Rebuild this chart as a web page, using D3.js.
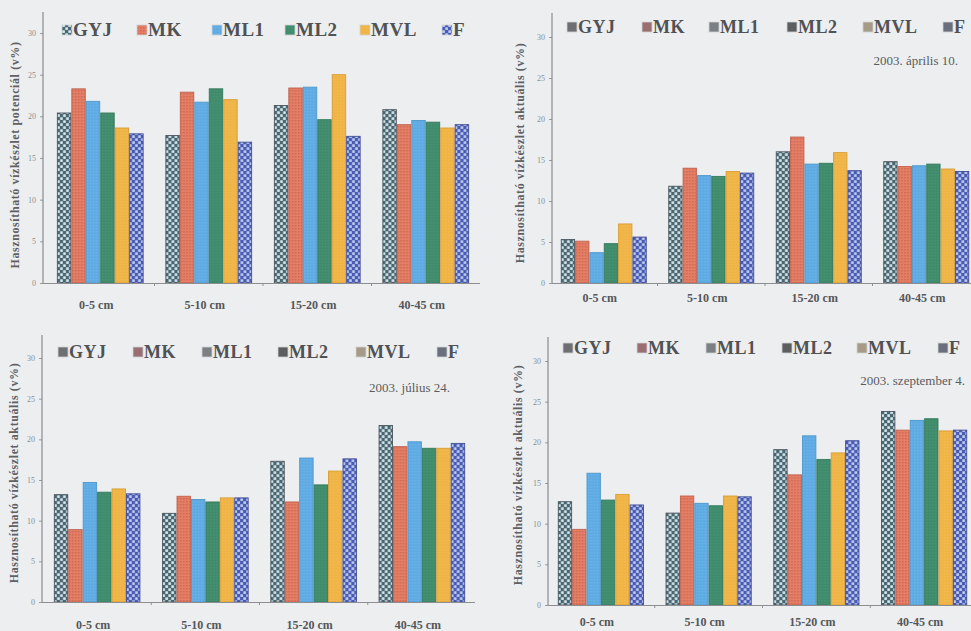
<!DOCTYPE html>
<html>
<head>
<meta charset="utf-8">
<script src="https://cdn.jsdelivr.net/npm/d3@7"></script>
<style>
  html, body { margin: 0; padding: 0; background: #eceef0; }
  svg { display: block; }
</style>
</head>
<body>
<svg id="chart" width="971" height="631"></svg>
<script>
// Soil layers and treatments
const categories = ["0-5 cm", "5-10 cm", "15-20 cm", "40-45 cm"];
const seriesNames = ["GYJ", "MK", "ML1", "ML2", "MVL", "F"];
const yTicks = [0, 5, 10, 15, 20, 25, 30];

// Usable water content (v%), one row per soil layer, columns follow seriesNames
const potencialValues = [
  [20.4, 23.3, 21.8, 20.4, 18.6, 17.9],
  [17.7, 22.9, 21.7, 23.3, 22.0, 16.9],
  [21.3, 23.4, 23.5, 19.6, 25.0, 17.6],
  [20.8, 19.0, 19.5, 19.3, 18.6, 19.0]
];
const april10Values = [
  [5.3, 5.1, 3.7, 4.8, 7.2, 5.6],
  [11.8, 14.0, 13.1, 13.0, 13.6, 13.4],
  [16.0, 17.8, 14.5, 14.6, 15.9, 13.7],
  [14.8, 14.2, 14.3, 14.5, 13.9, 13.6]
];
const july24Values = [
  [13.2, 8.9, 14.7, 13.5, 13.9, 13.3],
  [10.9, 13.0, 12.6, 12.3, 12.8, 12.8],
  [17.3, 12.3, 17.7, 14.4, 16.1, 17.6],
  [21.7, 19.1, 19.7, 18.9, 18.9, 19.5]
];
const sept4Values = [
  [12.7, 9.3, 16.2, 12.9, 13.6, 12.3],
  [11.3, 13.4, 12.5, 12.2, 13.4, 13.3],
  [19.1, 16.0, 20.8, 17.9, 18.7, 20.2],
  [23.8, 21.5, 22.7, 22.9, 21.4, 21.5]
];

const titlePotencial = "Hasznosítható vízkészlet potenciál (v%)";
const titleAktualis = "Hasznosítható vízkészlet aktuális (v%)";
const dateLabels = ["", "2003. április 10.", "2003. július 24.", "2003. szeptember 4."];

const SERIF = "'Liberation Serif', 'Times New Roman', serif";

const svg = d3.select("#chart");
const defs = svg.append("defs");

// Fill patterns for the six treatments
function dotted(id, dark, light) {
  const p = defs.append("pattern").attr("id", id).attr("patternUnits", "userSpaceOnUse")
    .attr("width", 6).attr("height", 6);
  p.append("rect").attr("width", 6).attr("height", 6).attr("fill", dark);
  p.append("rect").attr("x", 0.3).attr("y", 0.3).attr("width", 2.6).attr("height", 2.6).attr("fill", light);
  p.append("rect").attr("x", 3.3).attr("y", 3.3).attr("width", 2.6).attr("height", 2.6).attr("fill", light);
}
function hatched(id, base, fine) {
  const p = defs.append("pattern").attr("id", id).attr("patternUnits", "userSpaceOnUse")
    .attr("width", 3).attr("height", 3);
  p.append("rect").attr("width", 3).attr("height", 3).attr("fill", base);
  p.append("rect").attr("width", 1.5).attr("height", 1.5).attr("fill", fine);
}
dotted("pGYJ", "#4a6670", "#dcebf0");
hatched("pMK", "#e47f66", "#cf6753");
hatched("pML1", "#5eaae2", "#6cb4e8");
hatched("pML2", "#3f8b6b", "#469474");
hatched("pMVL", "#efb445", "#f2ba4f");
dotted("pF", "#4a5bb3", "#c4d1f0");

const barFill = { GYJ: "url(#pGYJ)", MK: "url(#pMK)", ML1: "url(#pML1)", ML2: "url(#pML2)", MVL: "url(#pMVL)", F: "url(#pF)" };
const barStroke = { GYJ: "#4b5660", MK: "#c2624f", ML1: "#4f97cc", ML2: "#357a5c", MVL: "#d99d34", F: "#414e98" };

// Greyscale legend keys used on the dated panels
const greyKey = { GYJ: "#6d6f72", MK: "#9a6f72", ML1: "#7c8084", ML2: "#5c5e60", MVL: "#a79a86", F: "#6b6e7c" };

const panels = [
  { values: potencialValues, title: titlePotencial, date: dateLabels[0], colourKeys: true,
    axisX: 43, yBase: 283, yTop: 33, axisTop: 12, axisRight: 480, xRange: [46, 480],
    catY: 309, legendY: 36, legendXs: [62, 137, 212, 285, 360, 442], legendSize: 19,
    titleX: 15, titleY: 155, dateX: 0, dateY: 0 },
  { values: april10Values, title: titleAktualis, date: dateLabels[1], colourKeys: false,
    axisX: 552, yBase: 283, yTop: 37, axisTop: 13, axisRight: 971, xRange: [550, 980],
    catY: 302, legendY: 33, legendXs: [567, 642, 709, 787, 863, 943], legendSize: 18,
    titleX: 520, titleY: 153, dateX: 958, dateY: 65 },
  { values: july24Values, title: titleAktualis, date: dateLabels[2], colourKeys: false,
    axisX: 42, yBase: 602, yTop: 358, axisTop: 335, axisRight: 475, xRange: [43, 476],
    catY: 629, legendY: 358, legendXs: [58, 133, 202, 278, 356, 437], legendSize: 18,
    titleX: 14, titleY: 473, dateX: 450, dateY: 392 },
  { values: sept4Values, title: titleAktualis, date: dateLabels[3], colourKeys: false,
    axisX: 548, yBase: 605, yTop: 361, axisTop: 337, axisRight: 971, xRange: [547, 978],
    catY: 626, legendY: 354, legendXs: [563, 637, 706, 782, 857, 938], legendSize: 18,
    titleX: 518, titleY: 475, dateX: 965, dateY: 385 }
];

panels.forEach(drawPanel);

function drawPanel(cfg) {
  const g = svg.append("g");
  const y = d3.scaleLinear().domain([0, 30]).range([cfg.yBase, cfg.yTop]);
  const x0 = d3.scaleBand().domain(categories).range(cfg.xRange).paddingInner(0.2).paddingOuter(0.1);
  const x1 = d3.scaleBand().domain(seriesNames).range([0, x0.bandwidth()]).padding(0);

  // bars
  const groups = g.selectAll("g.grp").data(categories).join("g")
    .attr("transform", d => `translate(${x0(d)},0)`);
  groups.selectAll("rect").data((d, i) => seriesNames.map((s, j) => ({ s, v: cfg.values[i][j] })))
    .join("rect")
    .attr("x", d => x1(d.s) + 0.5)
    .attr("width", x1.bandwidth() - 1)
    .attr("y", d => y(d.v))
    .attr("height", d => y(0) - y(d.v))
    .attr("fill", d => barFill[d.s])
    .attr("stroke", d => barStroke[d.s])
    .attr("stroke-width", 0.9);

  // y axis
  const yAxis = d3.axisLeft(y).tickValues(yTicks).tickSize(3).tickPadding(4);
  const ya = g.append("g").attr("transform", `translate(${cfg.axisX},0)`).call(yAxis);
  ya.select(".domain").remove();
  ya.selectAll("line").attr("stroke", "#9a9c9e");
  ya.selectAll("text").attr("fill", "#8d8f92")
    .attr("font-family", SERIF).attr("font-size", 8);
  g.append("line").attr("x1", cfg.axisX).attr("x2", cfg.axisX)
    .attr("y1", cfg.axisTop).attr("y2", cfg.yBase)
    .attr("stroke", "#77797c").attr("stroke-width", 1);

  // x axis
  g.append("line").attr("x1", cfg.axisX).attr("x2", cfg.axisRight)
    .attr("y1", cfg.yBase + 0.5).attr("y2", cfg.yBase + 0.5)
    .attr("stroke", "#8c8e91").attr("stroke-width", 1);
  const step = x0.step();
  g.selectAll("line.sep").data(categories.slice(1)).join("line")
    .attr("x1", d => x0(d) - step * 0.1).attr("x2", d => x0(d) - step * 0.1)
    .attr("y1", cfg.yBase).attr("y2", cfg.yBase + 3)
    .attr("stroke", "#8c8e91");
  g.selectAll("text.cat").data(categories).join("text")
    .attr("x", d => x0(d) + x0.bandwidth() / 2 - 4)
    .attr("y", cfg.catY)
    .attr("text-anchor", "middle")
    .attr("fill", "#555759")
    .attr("font-family", SERIF).attr("font-weight", "bold").attr("font-size", 12)
    .text(d => d);

  // y title
  g.append("text")
    .attr("transform", `translate(${cfg.titleX},${cfg.titleY}) rotate(-90)`)
    .attr("text-anchor", "middle")
    .attr("dominant-baseline", "central")
    .attr("fill", "#5e6063")
    .attr("font-family", SERIF).attr("font-weight", "bold").attr("font-size", 12)
    .style("letter-spacing", "0.6px")
    .text(cfg.title);

  // legend
  const leg = g.selectAll("g.leg").data(seriesNames).join("g")
    .attr("transform", (d, i) => `translate(${cfg.legendXs[i]},${cfg.legendY})`);
  leg.append("rect")
    .attr("x", 0).attr("y", -11).attr("width", 10).attr("height", 10)
    .attr("fill", d => cfg.colourKeys ? barFill[d] : greyKey[d])
    .attr("stroke", "#d0d2d4").attr("stroke-width", 0.8);
  leg.append("text")
    .attr("x", 11).attr("y", 0)
    .attr("fill", "#505254")
    .attr("font-family", SERIF).attr("font-weight", "bold").attr("font-size", cfg.legendSize)
    .style("letter-spacing", "0.5px")
    .text(d => d);

  if (cfg.date) {
    g.append("text")
      .attr("x", cfg.dateX).attr("y", cfg.dateY)
      .attr("text-anchor", "end")
      .attr("fill", "#5a5c5e")
      .attr("font-family", SERIF).attr("font-size", 13)
      .text(cfg.date);
  }
}
</script>
</body>
</html>
